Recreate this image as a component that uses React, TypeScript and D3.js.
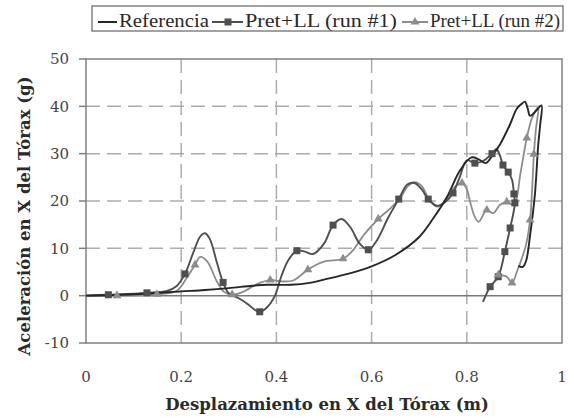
import React from "react";
import * as d3 from "d3";

// Referencia (black, no markers)
const refX = [0, 0.1, 0.2, 0.25, 0.3, 0.35, 0.38, 0.4, 0.43, 0.47, 0.5, 0.55, 0.6, 0.65, 0.7, 0.73, 0.758, 0.786, 0.81, 0.825, 0.84, 0.853, 0.87, 0.89, 0.905, 0.915, 0.922, 0.928, 0.933, 0.945, 0.957, 0.954, 0.95, 0.943, 0.933, 0.925, 0.918, 0.908];
const refY = [0, 0.3, 0.9, 1.2, 1.6, 2.1, 2.3, 2.3, 2.3, 2.7, 3.4, 4.6, 6.2, 8.6, 12.4, 16.4, 20.8, 26.5, 29.2, 28.8, 28, 29.5, 32, 36, 39.5, 40.5, 41, 39.5, 38, 39, 40.2, 36, 31.8, 21.3, 12.8, 7.5, 6.1, 6.3];

// Pret+LL (run #1), squares
const run1X = [0, 0.047, 0.128, 0.17, 0.19, 0.208, 0.225, 0.24, 0.25, 0.26, 0.275, 0.288, 0.3, 0.32, 0.34, 0.355, 0.365, 0.38, 0.397, 0.41, 0.425, 0.443, 0.46, 0.477, 0.5, 0.519, 0.537, 0.555, 0.575, 0.593, 0.61, 0.635, 0.657, 0.675, 0.69, 0.705, 0.719, 0.737, 0.755, 0.771, 0.785, 0.8, 0.817, 0.835, 0.853, 0.862, 0.87, 0.876, 0.887, 0.895, 0.899, 0.901, 0.897, 0.891, 0.88, 0.866, 0.849, 0.834];
const run1Y = [0, 0.2, 0.6, 1, 2, 4.6, 9, 12.5, 13.2, 12, 7, 2.8, 0.5, -0.5, -1.8, -3, -3.4, -2.5, 0, 4, 7.5, 9.5, 9.3, 8.8, 11, 14.9, 16.2, 14.5, 11, 9.7, 11.5, 16.5, 20.4, 23.5, 23.8, 22.5, 20.4, 19, 19.8, 21.7, 25, 28.6, 28, 28.5, 30, 31, 29.5, 27.6, 26.1, 24.5, 21.5, 19.6, 17, 14.3, 9.3, 4, 1.9, -1.3];
const run1Marks = [1, 2, 5, 11, 16, 21, 25, 29, 32, 36, 39, 42, 44, 47, 48, 50, 51, 53, 54, 55, 56];

// Pret+LL (run #2), triangles
const run2X = [0, 0.065, 0.149, 0.19, 0.21, 0.229, 0.24, 0.255, 0.275, 0.29, 0.307, 0.33, 0.36, 0.387, 0.41, 0.435, 0.45, 0.466, 0.5, 0.54, 0.56, 0.585, 0.614, 0.64, 0.66, 0.675, 0.69, 0.705, 0.72, 0.737, 0.755, 0.775, 0.79, 0.8, 0.807, 0.817, 0.825, 0.842, 0.855, 0.87, 0.884, 0.899, 0.913, 0.926, 0.937, 0.95, 0.945, 0.941, 0.937, 0.933, 0.925, 0.918, 0.905, 0.895, 0.884, 0.866];
const run2Y = [0, 0, 0.3, 1, 3.5, 6.5, 8.2, 7.2, 3, 0.8, 0.2, 0.8, 2.5, 3.3, 3, 3.2, 4.2, 5.5, 7.2, 7.8, 9.5, 13, 16.2, 18.5, 20.6, 23, 24, 23.2, 20.5, 18.8, 20, 23, 23.8, 22.5, 19.8, 16.6, 15.6, 18.1, 17.4, 19.2, 19.8, 19.2, 26, 33.3, 37.5, 39.8, 35, 29.9, 22, 16, 11, 8.6, 5, 2.7, 4, 4.4];
const run2Marks = [1, 2, 5, 10, 13, 17, 19, 22, 32, 37, 40, 43, 47, 49, 53, 55];

const xTicks = [0, 0.2, 0.4, 0.6, 0.8, 1];
const yTicks = [-10, 0, 10, 20, 30, 40, 50];
const legendNames = ["Referencia", "Pret+LL (run #1)", "Pret+LL (run #2)"];

const W = 569;
const H = 419;
const left = 86, right = 562, top = 59, bottom = 343;
const serif = "'DejaVu Serif', serif";
const legendFont = "'Liberation Serif', serif";

const x = d3.scaleLinear().domain([0, 1]).range([left, right]);
const y = d3.scaleLinear().domain([-10, 50]).range([bottom, top]);

const line = d3
  .line<[number, number]>()
  .x((d) => x(d[0]))
  .y((d) => y(d[1]))
  .curve(d3.curveCatmullRom.alpha(0.5));

const zip = (xs: number[], ys: number[]) => xs.map((v, i) => [v, ys[i]] as [number, number]);

const tri = d3.symbol().type(d3.symbolTriangle).size(34);

export default function App() {
  const c0 = "#262626", c1 = "#4f4f4f", c2 = "#8c8c8c";
  return (
    <svg width={W} height={H} style={{ position: "absolute", left: 0, top: 0, background: "#fff" }}>
      {/* grid */}
      {yTicks.filter((t) => t !== 0 && t !== -10 && t !== 50).map((t) => (
        <line key={"gy" + t} x1={left} x2={right} y1={y(t)} y2={y(t)} stroke="#acacac" strokeWidth={1.5} strokeDasharray="14 7" />
      ))}
      {xTicks.filter((t) => t !== 0 && t !== 1).map((t) => (
        <line key={"gx" + t} x1={x(t)} x2={x(t)} y1={top} y2={bottom} stroke="#acacac" strokeWidth={1.5} strokeDasharray="14 7" />
      ))}
      {/* frame */}
      <rect x={left} y={top} width={right - left} height={bottom - top} fill="none" stroke="#808080" strokeWidth={1.5} />
      <line x1={left} x2={right} y1={y(0)} y2={y(0)} stroke="#7a7a7a" strokeWidth={1.5} />
      {yTicks.map((t) => (
        <g key={"yt" + t}>
          <line x1={left - 7} x2={left} y1={y(t)} y2={y(t)} stroke="#808080" strokeWidth={1.5} />
          <text x={left - 17} y={y(t)} dy="0.36em" textAnchor="end" fontFamily={serif} fontSize={15} fill="#444">
            {t}
          </text>
        </g>
      ))}
      {xTicks.map((t) => (
        <text key={"xt" + t} x={x(t)} y={382} textAnchor="middle" fontFamily={serif} fontSize={15} fill="#444">
          {d3.format("")(t)}
        </text>
      ))}
      {/* series */}
      <path d={line(zip(run2X, run2Y)) ?? ""} fill="none" stroke={c2} strokeWidth={1.8} />
      <path d={line(zip(run1X, run1Y)) ?? ""} fill="none" stroke={c1} strokeWidth={1.9} />
      <path d={line(zip(refX, refY)) ?? ""} fill="none" stroke={c0} strokeWidth={1.9} />
      {run1Marks.map((i) => (
        <rect key={"m1" + i} x={x(run1X[i]) - 3.5} y={y(run1Y[i]) - 3.5} width={7} height={7} fill={c1} />
      ))}
      {run2Marks.map((i) => (
        <path key={"m2" + i} d={tri() ?? ""} transform={`translate(${x(run2X[i])},${y(run2Y[i])})`} fill={c2} />
      ))}
      {/* axis titles */}
      <text x={327} y={410} textAnchor="middle" fontFamily={serif} fontSize={16.5} fontWeight="bold" fill="#2a2a2a">
        Desplazamiento en X del Tórax (m)
      </text>
      <text transform="translate(30,216) rotate(-90)" textAnchor="middle" fontFamily={serif} fontSize={16.5} fontWeight="bold" fill="#2a2a2a">
        Aceleración en X del Tórax (g)
      </text>
      {/* legend */}
      <rect x={92} y={6} width={471} height={25} fill="#fff" stroke="#707070" strokeWidth={1.3} />
      <line x1={98} x2={117} y1={22} y2={22} stroke={c0} strokeWidth={2} />
      <text x={119} y={27} fontFamily={legendFont} fontSize={18} fill="#2a2a2a" textLength={90} lengthAdjust="spacingAndGlyphs">{legendNames[0]}</text>
      <line x1={212} x2={243} y1={22} y2={22} stroke={c1} strokeWidth={2} />
      <rect x={224.5} y={18.5} width={7} height={7} fill={c1} />
      <text x={245} y={27} fontFamily={legendFont} fontSize={18} fill="#2a2a2a" textLength={152} lengthAdjust="spacingAndGlyphs">{legendNames[1]}</text>
      <line x1={402} x2={428} y1={22} y2={22} stroke={c2} strokeWidth={2} />
      <path d={tri() ?? ""} transform="translate(415,22)" fill={c2} />
      <text x={430} y={27} fontFamily={legendFont} fontSize={18} fill="#2a2a2a" textLength={130} lengthAdjust="spacingAndGlyphs">{legendNames[2]}</text>
    </svg>
  );
}
